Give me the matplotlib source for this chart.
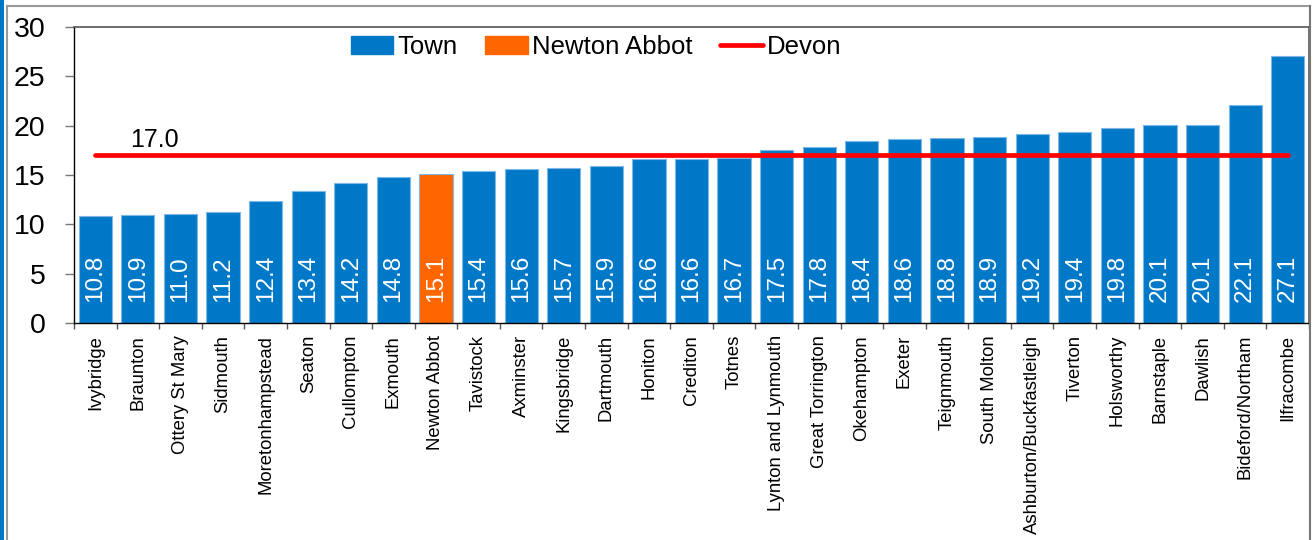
import matplotlib
matplotlib.use('Agg')
import matplotlib.pyplot as plt
import numpy as np
from matplotlib.patches import Rectangle, Patch
from matplotlib.lines import Line2D

towns = ["Ivybridge", "Braunton", "Ottery St Mary", "Sidmouth", "Moretonhampstead",
         "Seaton", "Cullompton", "Exmouth", "Newton Abbot", "Tavistock", "Axminster",
         "Kingsbridge", "Dartmouth", "Honiton", "Crediton", "Totnes", "Lynton and Lynmouth",
         "Great Torrington", "Okehampton", "Exeter", "Teignmouth", "South Molton",
         "Ashburton/Buckfastleigh", "Tiverton", "Holsworthy", "Barnstaple", "Dawlish",
         "Bideford/Northam", "Ilfracombe"]
values = [10.8, 10.9, 11.0, 11.2, 12.4, 13.4, 14.2, 14.8, 15.1, 15.4, 15.6, 15.7, 15.9,
          16.6, 16.6, 16.7, 17.5, 17.8, 18.4, 18.6, 18.8, 18.9, 19.2, 19.4, 19.8, 20.1,
          20.1, 22.1, 27.1]
highlight = "Newton Abbot"
devon_value = 17.0
yticks = [0, 5, 10, 15, 20, 25, 30]
legend_labels = ["Town", "Newton Abbot", "Devon"]

BLUE = "#0078C8"
ORANGE = "#FF6600"
RED = "#FF0000"

plt.rcParams['font.family'] = ['Liberation Sans', 'DejaVu Sans']

W, H = 1316, 540
fig = plt.figure(figsize=(W / 100, H / 100), dpi=100)
ax = fig.add_axes([74 / W, 1 - 323 / H, (1309 - 74) / W, 296 / H])

x = np.arange(len(towns))
colors = [ORANGE if t == highlight else BLUE for t in towns]
ax.bar(x, values, width=0.78, color=colors, edgecolor="#7db8e6", linewidth=0.8, zorder=2)

for xi, v in zip(x, values):
    ax.annotate(f"{v:.1f}", (xi, 0), xytext=(0, 15), textcoords="offset points",
                rotation=90, ha="center", va="bottom", color="white", fontsize=17.5, zorder=3)

ax.plot([x[0], x[-1]], [devon_value, devon_value], color=RED, lw=3.4,
        solid_capstyle="round", zorder=4)
ax.text(1.4, 17.84, f"{devon_value:.1f}", ha="center", va="baseline", fontsize=18)

ax.set_xlim(-0.5, len(towns) - 0.5)
ax.set_ylim(0, 30)
ax.set_yticks(yticks)
ax.set_yticklabels([str(t) for t in yticks], fontsize=20.5)
ax.tick_params(axis="y", direction="out", length=6.5, width=1, color="#777777", pad=14)

ax.set_xticks(x)
ax.set_xticklabels(towns, rotation=90, fontsize=13.3, ha="center", va="top")
ax.tick_params(axis="x", which="major", length=0, pad=8.6)
ax.set_xticks(np.arange(-0.5, len(towns), 1.0), minor=True)
ax.tick_params(axis="x", which="minor", direction="out", length=4.5, width=1, color="#555555")

for s in ["left", "bottom"]:
    ax.spines[s].set_color("black")
    ax.spines[s].set_linewidth(1)
for s in ["top", "right"]:
    ax.spines[s].set_color("#555555")
    ax.spines[s].set_linewidth(1.2)

handles = [Patch(facecolor=BLUE, edgecolor=BLUE),
           Patch(facecolor=ORANGE, edgecolor=ORANGE),
           Line2D([0], [0], color=RED, lw=3.4, solid_capstyle="round")]
fig.legend(handles, legend_labels, loc="center", bbox_to_anchor=(596 / W, 1 - 47 / H),
           ncol=3, frameon=False, fontsize=18.5, handlelength=1.65, handleheight=0.7,
           handletextpad=0.15, columnspacing=1.1, borderpad=0)

# outer frame
fig.add_artist(Rectangle((0, 0), 3.5 / W, 1, transform=fig.transFigure,
                         facecolor=BLUE, edgecolor="none"))
fig.add_artist(Line2D([7 / W, 7 / W], [0, 1 - 6 / H], transform=fig.transFigure,
                      color="#9a9a9a", lw=1.5))
fig.add_artist(Line2D([7 / W, 1310 / W], [1 - 6 / H, 1 - 6 / H], transform=fig.transFigure,
                      color="#9a9a9a", lw=1.5))
fig.add_artist(Line2D([1310 / W, 1310 / W], [0, 1 - 6 / H], transform=fig.transFigure,
                      color="#777777", lw=1.5))

fig.savefig("out.png", dpi=100)
